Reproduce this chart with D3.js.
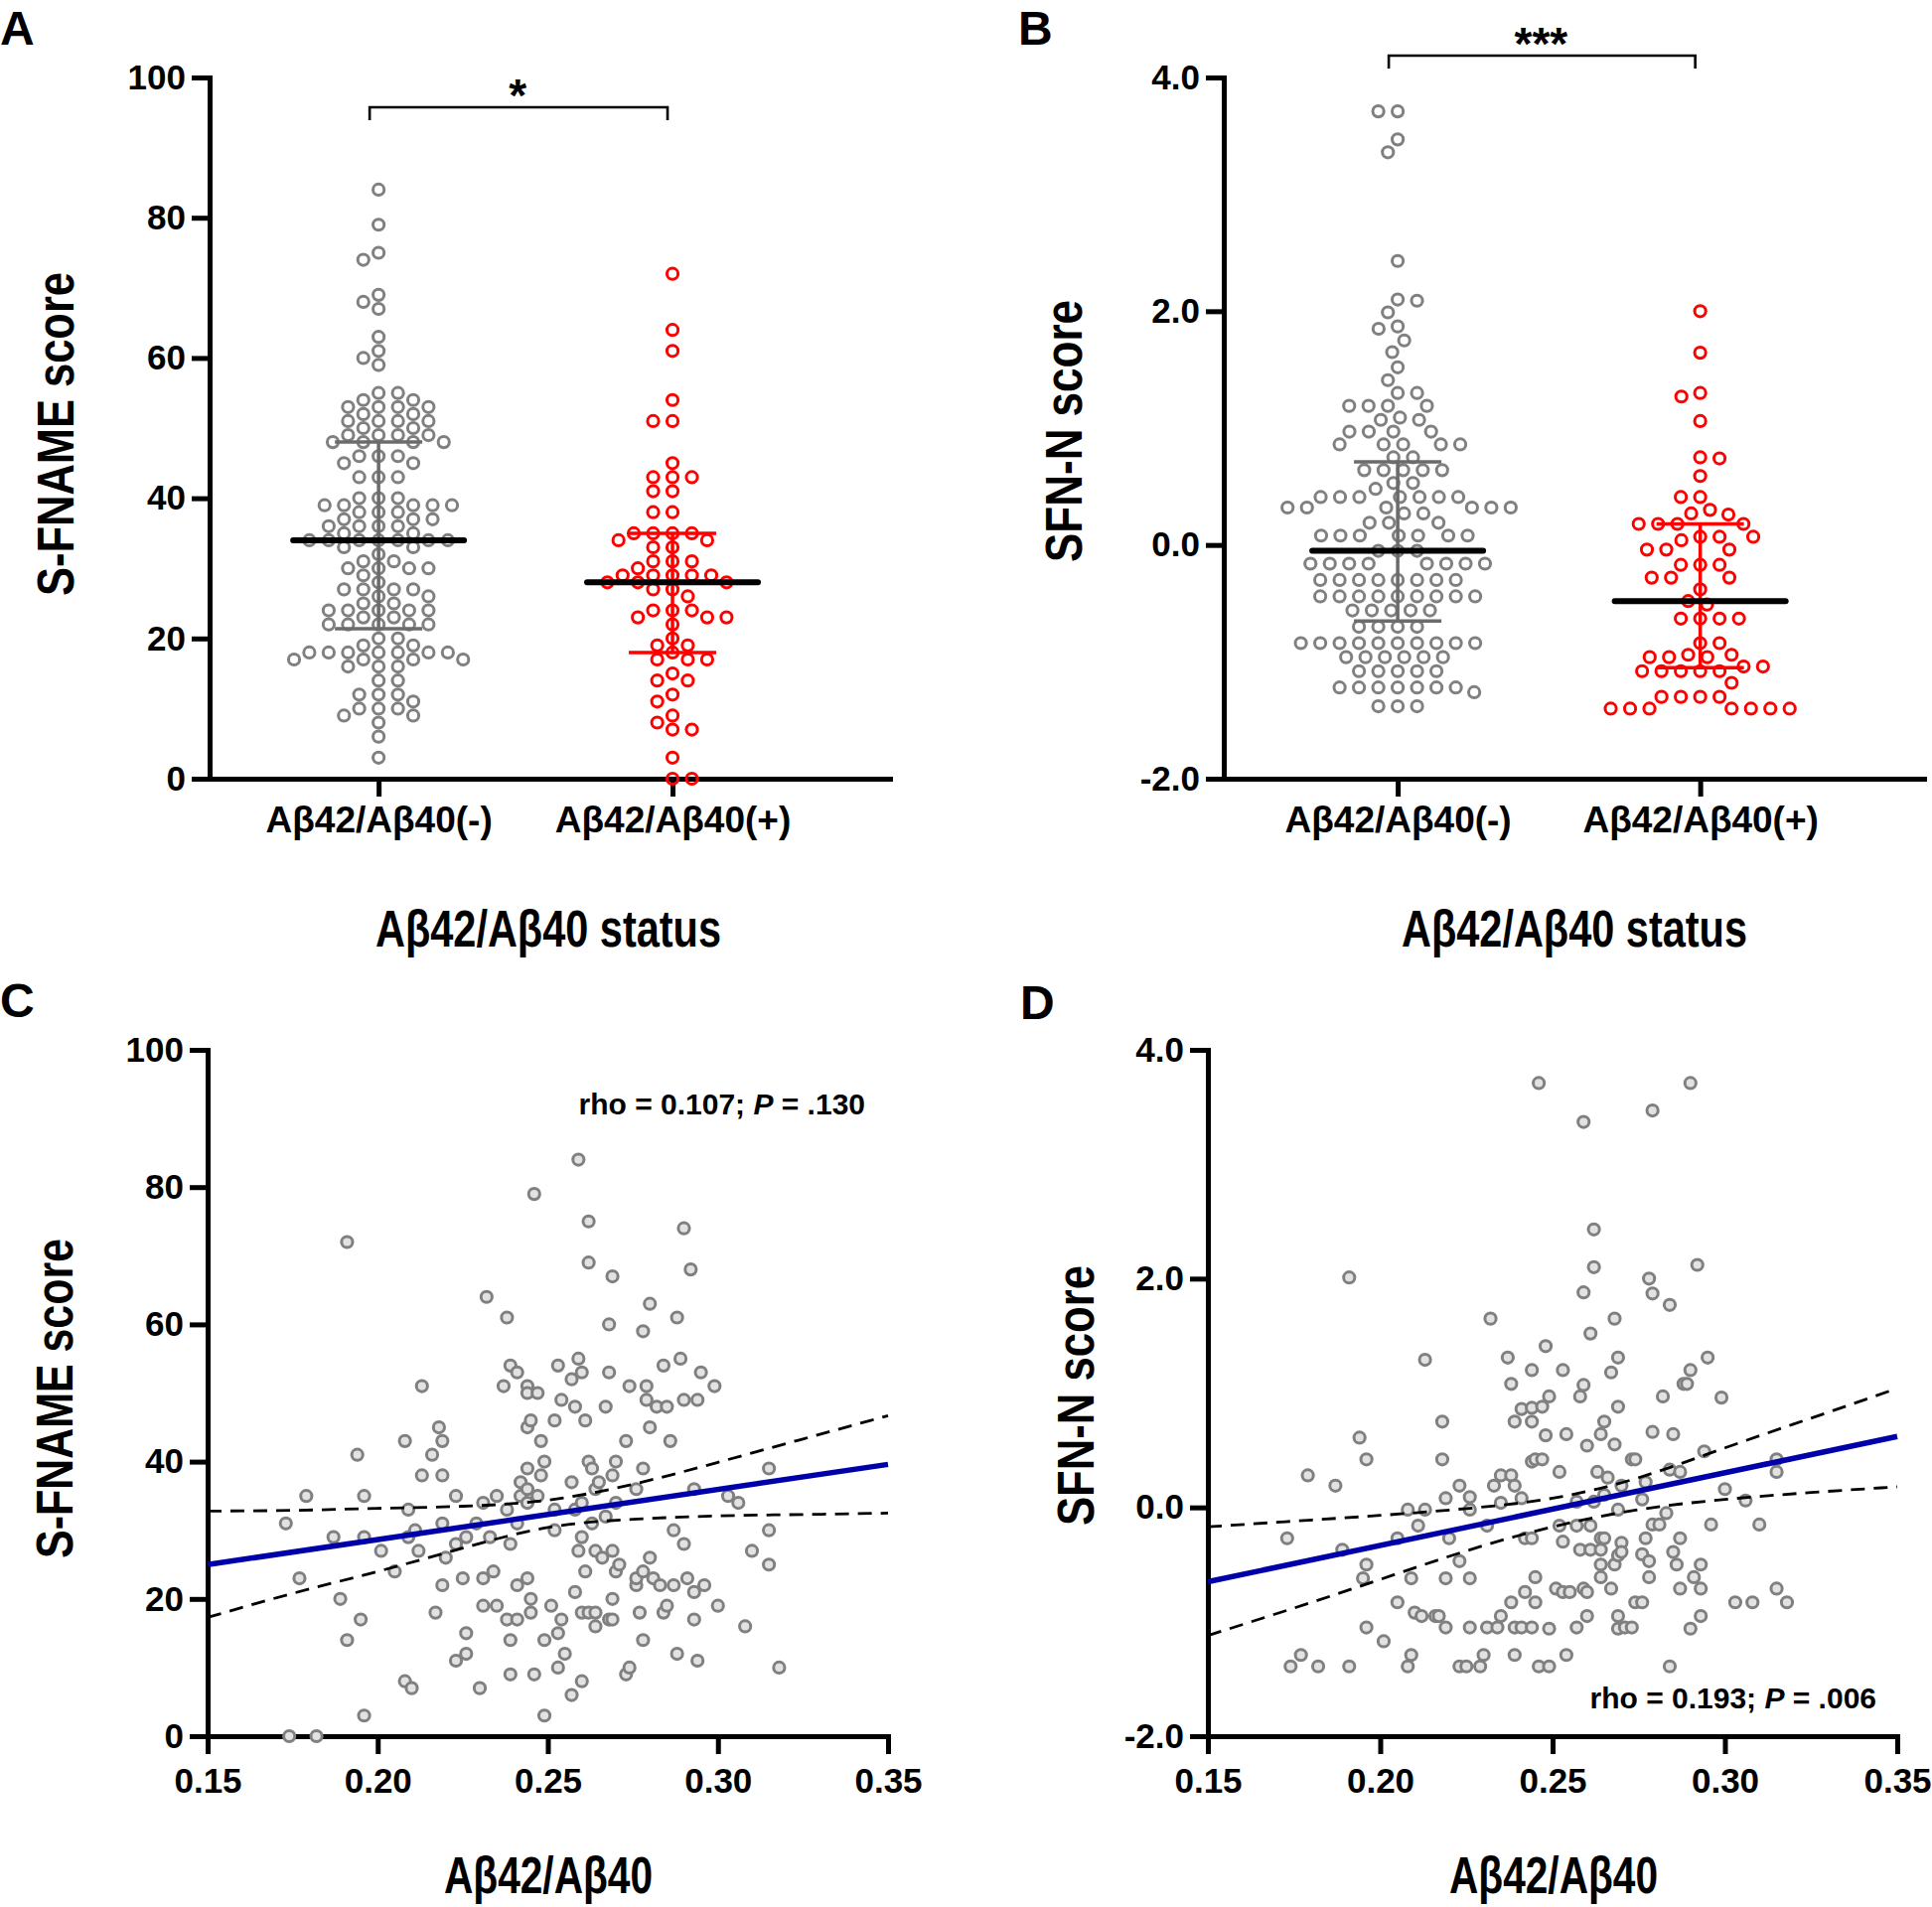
<!DOCTYPE html>
<html><head><meta charset="utf-8">
<script src="https://cdn.jsdelivr.net/npm/d3@7"></script>
<style>
body{margin:0;background:#fff}
svg text{font-family:'Liberation Sans',Arial,sans-serif;font-weight:bold;fill:#000}
</style>
</head><body>
<svg id="chart" width="1945" height="1920"></svg>
<script>
// ---------------- DATA ----------------
const groupLabels = ["A\u03b242/A\u03b240(-)", "A\u03b242/A\u03b240(+)"];
const fnameTicks = [0, 20, 40, 60, 80, 100];
const sfnTicks = [-2, 0, 2, 4];
const ratioTicks = [0.15, 0.20, 0.25, 0.30, 0.35];

// Panel A: S-FNAME score by status
const fnameNeg = [84,79,75,74,69,68,67,63,61,60,59,55,55,54,54,53,53,53,53,52,52,51,51,51,51,50,50,49,49,49,49,48,48,48,48,46,46,46,45,45,43,43,43,40,40,40,39,39,39,39,39,38,38,38,37,37,37,36,36,36,36,35,35,34,34,34,34,34,34,34,33,33,32,31,31,30,30,30,30,29,28,27,27,27,27,26,26,25,25,24,24,24,24,24,23,23,22,22,22,22,22,20,20,19,19,18,18,18,18,18,18,18,17,17,17,17,16,16,16,14,14,12,12,12,11,10,10,10,9,9,8,6,3];
const fnamePos = [72,64,61,54,51,51,45,43,43,43,41,41,38,38,35,35,35,35,34,34,33,33,31,31,31,30,29,29,29,29,29,28,28,28,27,27,26,24,24,24,23,23,23,22,20,19,19,18,17,17,17,15,14,14,12,11,9,8,7,7,3,0,0];
// centre line, lower whisker, upper whisker
const fnameSummary = [[34, 21.4, 48], [28, 18, 35]];

// Panel B: SFN-N score by status
const sfnNeg = [3.71,3.71,3.47,3.36,2.43,2.10,2.09,1.99,1.87,1.85,1.75,1.65,1.52,1.41,1.30,1.30,1.19,1.19,1.19,1.19,1.09,1.07,1.07,0.97,0.97,0.97,0.97,0.86,0.86,0.86,0.86,0.86,0.75,0.75,0.64,0.64,0.64,0.64,0.64,0.53,0.53,0.48,0.41,0.41,0.41,0.41,0.41,0.41,0.41,0.32,0.32,0.32,0.32,0.32,0.32,0.27,0.27,0.19,0.19,0.19,0.08,0.08,0.08,0.08,0.08,0.08,0.08,-0.05,-0.05,-0.05,-0.16,-0.16,-0.16,-0.16,-0.16,-0.16,-0.16,-0.16,-0.30,-0.30,-0.30,-0.30,-0.30,-0.30,-0.30,-0.30,-0.44,-0.44,-0.44,-0.44,-0.44,-0.44,-0.44,-0.44,-0.44,-0.56,-0.56,-0.56,-0.56,-0.56,-0.70,-0.70,-0.70,-0.70,-0.84,-0.84,-0.84,-0.84,-0.84,-0.84,-0.84,-0.84,-0.84,-0.84,-0.96,-0.96,-0.96,-0.96,-0.96,-0.96,-1.08,-1.08,-1.08,-1.08,-1.08,-1.22,-1.22,-1.22,-1.22,-1.22,-1.22,-1.22,-1.26,-1.38,-1.38,-1.38];
const sfnPos = [2.00,1.645,1.30,1.27,1.06,0.75,0.74,0.59,0.41,0.41,0.30,0.27,0.26,0.18,0.18,0.18,0.18,0.07,0.07,0.07,0.04,-0.04,-0.04,-0.04,-0.17,-0.17,-0.17,-0.28,-0.28,-0.28,-0.38,-0.48,-0.51,-0.63,-0.63,-0.63,-0.63,-0.84,-0.84,-0.94,-0.94,-0.96,-0.96,-0.96,-1.04,-1.04,-1.08,-1.08,-1.08,-1.08,-1.08,-1.18,-1.30,-1.30,-1.30,-1.30,-1.40,-1.40,-1.40,-1.40,-1.40,-1.40,-1.40];
const sfnSummary = [[-0.05, -0.65, 0.71], [-0.48, -1.05, 0.18]];

// Panel C: S-FNAME vs ratio
const ratioC = [0.174,0.182,0.173,0.179,0.177,0.187,0.189,0.191,0.191,0.194,0.195,0.196,0.196,0.196,0.201,0.205,0.208,0.208,0.209,0.209,0.210,0.211,0.212,0.213,0.213,0.216,0.217,0.218,0.219,0.219,0.219,0.219,0.220,0.223,0.223,0.223,0.225,0.226,0.226,0.226,0.229,0.230,0.231,0.231,0.231,0.232,0.233,0.234,0.235,0.235,0.237,0.238,0.238,0.238,0.239,0.239,0.239,0.239,0.241,0.241,0.241,0.241,0.242,0.242,0.244,0.244,0.244,0.244,0.244,0.244,0.244,0.245,0.245,0.245,0.246,0.246,0.247,0.247,0.248,0.248,0.249,0.249,0.249,0.251,0.252,0.252,0.252,0.253,0.253,0.253,0.254,0.254,0.255,0.257,0.257,0.257,0.258,0.258,0.258,0.259,0.259,0.259,0.260,0.260,0.260,0.260,0.260,0.261,0.261,0.262,0.262,0.262,0.262,0.263,0.263,0.264,0.264,0.264,0.264,0.265,0.266,0.267,0.267,0.268,0.268,0.268,0.269,0.269,0.269,0.269,0.269,0.270,0.270,0.270,0.271,0.273,0.273,0.274,0.274,0.276,0.276,0.276,0.277,0.278,0.278,0.278,0.278,0.279,0.279,0.280,0.280,0.280,0.281,0.282,0.283,0.284,0.284,0.285,0.285,0.286,0.287,0.287,0.288,0.288,0.289,0.290,0.290,0.290,0.291,0.292,0.293,0.293,0.293,0.294,0.294,0.295,0.296,0.299,0.300,0.303,0.306,0.308,0.310,0.315,0.315,0.315,0.318];
const fnameC = [0,0,31,35,23,29,20,72,14,41,17,35,29,3,27,24,43,8,33,29,7,30,27,51,38,41,18,45,43,38,31,22,26,35,11,28,23,29,15,12,31,7,34,23,19,64,29,24,35,19,51,61,33,17,54,28,14,9,53,31,17,22,37,35,51,50,45,39,36,34,23,46,20,18,79,9,50,35,43,38,40,14,3,19,46,33,30,54,15,10,49,17,12,37,52,6,48,21,33,84,55,27,53,34,29,18,8,46,24,75,69,40,18,31,39,36,27,18,16,37,26,48,32,60,53,17,67,38,27,20,17,40,34,24,25,43,9,51,10,36,22,23,18,59,39,14,24,51,49,45,26,63,23,48,22,54,18,48,19,43,30,22,61,12,55,49,28,74,23,68,36,21,17,49,11,53,22,51,19,35,34,16,27,39,30,25,10];

// Panel D: SFN-N vs ratio
const ratioD = [0.173,0.177,0.174,0.179,0.182,0.187,0.189,0.191,0.191,0.194,0.196,0.196,0.195,0.196,0.201,0.205,0.205,0.208,0.209,0.209,0.208,0.210,0.211,0.212,0.213,0.213,0.216,0.217,0.218,0.218,0.219,0.219,0.219,0.220,0.223,0.223,0.223,0.225,0.226,0.226,0.226,0.226,0.229,0.230,0.231,0.231,0.232,0.233,0.234,0.235,0.235,0.235,0.237,0.238,0.238,0.239,0.239,0.238,0.239,0.239,0.241,0.241,0.241,0.242,0.242,0.244,0.244,0.244,0.244,0.244,0.244,0.245,0.245,0.245,0.246,0.247,0.247,0.246,0.248,0.249,0.248,0.249,0.249,0.251,0.252,0.252,0.253,0.253,0.253,0.254,0.254,0.255,0.257,0.257,0.257,0.258,0.259,0.259,0.259,0.258,0.259,0.260,0.260,0.260,0.261,0.261,0.261,0.262,0.262,0.262,0.263,0.264,0.264,0.264,0.264,0.264,0.265,0.265,0.265,0.266,0.267,0.267,0.268,0.268,0.268,0.269,0.269,0.269,0.269,0.269,0.269,0.270,0.270,0.270,0.271,0.273,0.273,0.274,0.274,0.276,0.276,0.276,0.277,0.277,0.278,0.278,0.278,0.279,0.279,0.279,0.279,0.281,0.282,0.283,0.284,0.284,0.284,0.285,0.285,0.286,0.287,0.287,0.287,0.288,0.289,0.290,0.290,0.290,0.291,0.292,0.293,0.293,0.293,0.294,0.295,0.296,0.299,0.300,0.303,0.306,0.308,0.310,0.315,0.315,0.315,0.318];
const sfnD = [-0.27,-1.29,-1.39,0.28,-1.39,0.19,-0.37,2.01,-1.39,0.61,0.42,-0.50,-0.62,-1.05,-1.17,-0.27,-0.83,-0.02,-0.62,-1.29,-1.39,-0.92,-0.16,-0.95,1.29,-0.02,-0.95,-0.95,0.75,0.42,-1.05,-0.62,0.08,-0.27,-0.47,0.19,-1.39,-1.39,0.09,-0.62,-1.05,-0.02,-1.39,-1.29,-1.05,-0.16,1.65,0.19,-1.05,0.28,0.04,-0.95,1.31,1.08,0.28,0.19,0.75,-0.83,-1.29,-1.05,0.86,0.08,-1.05,-0.74,-0.27,1.20,0.87,0.75,0.40,-0.27,-1.05,-0.61,-0.83,0.42,3.71,0.88,0.42,-1.39,1.41,0.97,0.63,-1.06,-1.39,-0.71,0.31,-0.16,-0.30,1.20,-0.74,0.64,-1.29,-0.74,-0.16,0.05,-1.05,0.97,1.07,3.37,1.88,-0.37,-0.71,-0.74,0.54,-0.95,-0.37,-0.16,1.52,2.43,2.10,0.05,0.31,0.64,-0.27,-0.50,-0.61,-0.37,0.75,0.11,-0.27,0.26,1.18,-0.71,1.65,0.55,-0.50,1.31,0.88,-0.02,-0.42,-0.95,-1.06,0.19,-0.31,-0.39,-1.05,-1.05,0.42,-0.83,0.42,-0.83,-0.41,0.07,-0.27,0.22,-0.61,-0.47,2.00,1.87,0.66,3.47,-0.15,-0.15,0.97,-0.05,1.77,0.33,-1.39,0.64,-0.39,-0.50,-0.27,0.31,-0.71,1.08,1.08,3.71,1.20,-1.06,-0.61,2.12,-0.50,-0.71,-0.95,0.49,1.31,-0.15,0.96,0.16,-0.83,0.06,-0.83,-0.15,0.42,0.31,-0.71,-0.83];

// regression lines and 95% bands
const fitX = [0.15, 0.35];
const fitC = [25.0, 39.6];
const fitD = [-0.65, 0.62];
const bandX = [0.15, 0.175, 0.20, 0.225, 0.25, 0.275, 0.30, 0.325, 0.35];
const bandCUpper = [32.8, 32.9, 33.2, 33.5, 34.4, 36.7, 39.9, 43.3, 46.7];
const bandCLower = [17.3, 20.8, 24.0, 27.4, 30.4, 31.6, 32.1, 32.3, 32.5];
const bandDUpper = [-0.17, -0.12, -0.07, -0.01, 0.08, 0.26, 0.52, 0.78, 1.04];
const bandDLower = [-1.12, -0.88, -0.63, -0.38, -0.17, -0.02, 0.07, 0.13, 0.18];

// ---------------- DRAWING ----------------
const svg = d3.select("#chart");
const GREY = "#808080", RED = "#ff0000", WHISK = "#6b6b6b", BLUE = "#0000aa";
const catDomain = [0.425, 2.74];

function styleAxis(g, fs) {
  g.attr("font-size", null).attr("font-family", null);
  g.selectAll(".domain").attr("stroke", "#000").attr("stroke-width", 5).attr("stroke-linecap", "square");
  g.selectAll(".tick line").attr("stroke", "#000").attr("stroke-width", 5);
  g.selectAll(".tick text").style("font-size", fs + "px");
}

// beeswarm with an elliptical collision zone (rows interleave like Prism)
function swarm(vals, y, cx, d, k) {
  const pts = vals.map(v => ({v, y: y(v), x: 0})).sort((a, b) => a.y - b.y);
  const placed = [];
  pts.forEach((p, i) => {
    const near = placed.filter(q => Math.abs(q.y - p.y) * k < d);
    const cand = [0];
    near.forEach(q => {
      const dx = Math.sqrt(d * d - (k * (q.y - p.y)) ** 2);
      cand.push(q.x + dx, q.x - dx);
    });
    cand.sort((a, b) => (Math.abs(a) - Math.abs(b)) || (i % 2 ? a - b : b - a));
    for (const c of cand) {
      if (near.every(q => (c - q.x) ** 2 + (k * (q.y - p.y)) ** 2 >= d * d - 0.01)) { p.x = c; break; }
    }
    placed.push(p);
  });
  pts.forEach(p => p.x += cx);
  return pts;
}

function letter(t, x, y) {
  svg.append("text").attr("x", x).attr("y", y).style("font-size", "48px").text(t);
}

function title(t, x, y, len, rotate) {
  svg.append("text")
    .attr("transform", `translate(${x},${y})` + (rotate ? " rotate(-90)" : ""))
    .attr("text-anchor", "middle")
    .attr("textLength", len).attr("lengthAdjust", "spacingAndGlyphs")
    .style("font-size", "51px").text(t);
}

function dotPanel(o) {
  const x = d3.scaleLinear().domain(catDomain).range([o.left, o.right]);
  const y = d3.scaleLinear().domain(o.yDomain).range([784, 78]);
  const ya = svg.append("g").attr("transform", `translate(${o.left},0)`)
    .call(d3.axisLeft(y).tickValues(o.yTicks).tickFormat(o.fmt).tickSize(18).tickSizeOuter(0).tickPadding(6));
  styleAxis(ya, 35);
  const xa = svg.append("g").attr("transform", `translate(0,${y(o.yDomain[0])})`)
    .call(d3.axisBottom(x).tickValues([1, 2]).tickFormat((d, i) => groupLabels[i]).tickSize(18).tickSizeOuter(0).tickPadding(10));
  styleAxis(xa, 37);

  [o.neg, o.pos].forEach((vals, gi) => {
    const pts = swarm(vals, y, x(gi + 1), 19.5, o.k);
    svg.append("g").selectAll("circle").data(pts).join("circle")
      .attr("cx", d => d.x).attr("cy", d => d.y).attr("r", 5.6)
      .attr("fill", "none").attr("stroke", gi ? RED : GREY).attr("stroke-width", 3);
  });

  o.summary.forEach((s, gi) => {
    const cx = x(gi + 1), col = gi ? RED : WHISK;
    const g = svg.append("g").attr("stroke", col).attr("stroke-width", 3.5);
    g.append("line").attr("x1", cx).attr("x2", cx).attr("y1", y(s[1])).attr("y2", y(s[2]));
    g.append("line").attr("x1", cx - 44).attr("x2", cx + 44).attr("y1", y(s[1])).attr("y2", y(s[1]));
    g.append("line").attr("x1", cx - 44).attr("x2", cx + 44).attr("y1", y(s[2])).attr("y2", y(s[2]));
    svg.append("line").attr("x1", cx - 86).attr("x2", cx + 86).attr("y1", y(s[0])).attr("y2", y(s[0]))
      .attr("stroke", "#000").attr("stroke-width", 6).attr("stroke-linecap", "round");
  });

  const bx1 = x(1) - 9, bx2 = x(2) - 5;
  svg.append("path")
    .attr("d", `M${bx1},${o.brY + 13}V${o.brY}H${bx2}V${o.brY + 13}`)
    .attr("fill", "none").attr("stroke", "#000").attr("stroke-width", 2.6);
  svg.append("text").attr("x", (x(1) + x(2)) / 2 - 8).attr("y", o.brY + o.starDy)
    .attr("text-anchor", "middle").style("font-size", "46px").text(o.stars);

  title(o.xTitle, o.xTitleX, 953, 348, false);
  title(o.yTitle, o.yTitleX, o.yTitleY, o.yTitleLen, true);
}

function scatterPanel(o) {
  const x = d3.scaleLinear().domain([0.15, 0.35]).range([o.left, o.right]);
  const y = d3.scaleLinear().domain(o.yDomain).range([1748, 1057]);
  const ya = svg.append("g").attr("transform", `translate(${o.left},0)`)
    .call(d3.axisLeft(y).tickValues(o.yTicks).tickFormat(o.fmt).tickSize(18).tickSizeOuter(0).tickPadding(6));
  styleAxis(ya, 35);
  const xa = svg.append("g").attr("transform", `translate(0,1748)`)
    .call(d3.axisBottom(x).tickValues(ratioTicks).tickFormat(d3.format(".2f")).tickSize(18).tickSizeOuter(0).tickPadding(14));
  styleAxis(xa, 35);

  svg.append("g").selectAll("circle").data(o.xs.map((v, i) => [v, o.ys[i]])).join("circle")
    .attr("cx", d => x(d[0])).attr("cy", d => y(d[1])).attr("r", 5.6)
    .attr("fill", "#e2e2e2").attr("stroke", GREY).attr("stroke-width", 3);

  const band = d3.line().x((d, i) => x(bandX[i])).y(d => y(d)).curve(d3.curveNatural);
  [o.up, o.lo].forEach(arr => {
    svg.append("path").attr("d", band(arr)).attr("fill", "none")
      .attr("stroke", "#000").attr("stroke-width", 2.8).attr("stroke-dasharray", "14,9");
  });
  svg.append("line").attr("x1", x(fitX[0])).attr("x2", x(fitX[1]))
    .attr("y1", y(o.fit[0])).attr("y2", y(o.fit[1]))
    .attr("stroke", BLUE).attr("stroke-width", 5.5);

  const t = svg.append("text").attr("x", o.rhoX).attr("y", o.rhoY).attr("text-anchor", "end").style("font-size", "30px");
  t.append("tspan").text(o.rho[0]);
  t.append("tspan").style("font-style", "italic").text("P");
  t.append("tspan").text(o.rho[1]);

  title("A\u03b242/A\u03b240", o.xTitleX, 1906, 210, false);
  title(o.yTitle, o.yTitleX, o.yTitleY, o.yTitleLen, true);
}

const fmtInt = d => String(d);
const fmt1 = d => d.toFixed(1);

dotPanel({left: 211, right: 896, yDomain: [0, 100], yTicks: fnameTicks, fmt: fmtInt, k: 1.7,
  neg: fnameNeg, pos: fnamePos, summary: fnameSummary, brY: 108, stars: "*", starDy: 4,
  xTitle: "A\u03b242/A\u03b240 status", xTitleX: 552,
  yTitle: "S-FNAME score", yTitleX: 74, yTitleY: 437, yTitleLen: 326});
dotPanel({left: 1232, right: 1937, yDomain: [-2, 4], yTicks: sfnTicks, fmt: fmt1, k: 1.3,
  neg: sfnNeg, pos: sfnPos, summary: sfnSummary, brY: 56, stars: "***", starDy: 4,
  xTitle: "A\u03b242/A\u03b240 status", xTitleX: 1585,
  yTitle: "SFN-N score", yTitleX: 1089, yTitleY: 434, yTitleLen: 264});
scatterPanel({left: 209, right: 894, yDomain: [0, 100], yTicks: fnameTicks, fmt: fmtInt,
  xs: ratioC, ys: fnameC, fit: fitC, up: bandCUpper, lo: bandCLower,
  rho: ["rho = 0.107; ", " = .130"], rhoX: 871, rhoY: 1122,
  xTitleX: 552, yTitle: "S-FNAME score", yTitleX: 73, yTitleY: 1408, yTitleLen: 322});
scatterPanel({left: 1216, right: 1910, yDomain: [-2, 4], yTicks: sfnTicks, fmt: fmt1,
  xs: ratioD, ys: sfnD, fit: fitD, up: bandDUpper, lo: bandDLower,
  rho: ["rho = 0.193; ", " = .006"], rhoX: 1889, rhoY: 1720,
  xTitleX: 1564, yTitle: "SFN-N score", yTitleX: 1101, yTitleY: 1405, yTitleLen: 262});

letter("A", 0, 45);
letter("B", 1025, 45);
letter("C", 0, 1024);
letter("D", 1027, 1026);
</script>
</body></html>
